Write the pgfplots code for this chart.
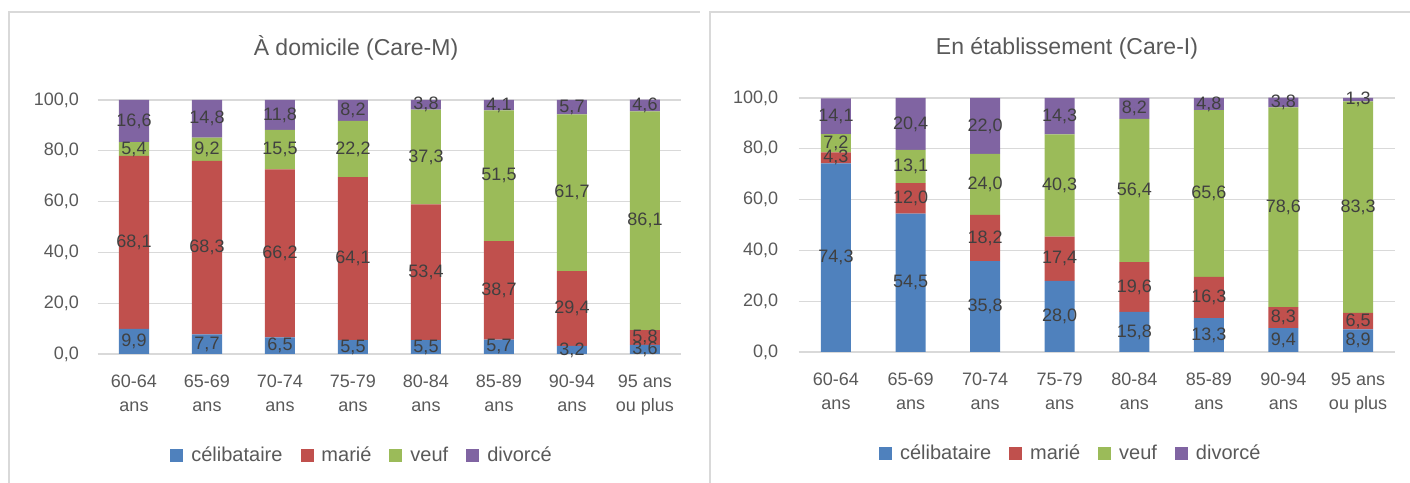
\documentclass[border=0pt]{standalone}
\usepackage{pgfplots}
\pgfplotsset{compat=1.18}
\usepackage{pgfplotstable}
\usepackage{fontspec}
\setmainfont{Liberation Sans}
\definecolor{cblue}{HTML}{4F81BD}
\definecolor{cred}{HTML}{C0504D}
\definecolor{cgreen}{HTML}{9BBB59}
\definecolor{cpurple}{HTML}{8064A2}
\definecolor{gridc}{HTML}{D9D9D9}
\definecolor{tickc}{HTML}{595959}
\definecolor{labc}{HTML}{404040}

\pgfplotstableread{
x c m v d
0 9.9 68.1 5.4 16.6
1 7.7 68.3 9.2 14.8
2 6.5 66.2 15.5 11.8
3 5.5 64.1 22.2 8.2
4 5.5 53.4 37.3 3.8
5 5.7 38.7 51.5 4.1
6 3.2 29.4 61.7 5.7
7 3.6 5.8 86.1 4.6
}\domicile
\pgfplotstableread{
x c m v d
0 74.3 4.3 7.2 14.1
1 54.5 12.0 13.1 20.4
2 35.8 18.2 24.0 22.0
3 28.0 17.4 40.3 14.3
4 15.8 19.6 56.4 8.2
5 13.3 16.3 65.6 4.8
6 9.4 8.3 78.6 3.8
7 8.9 6.5 83.3 1.3
}\etab

\pgfplotsset{
  base/.style={
    scale only axis, height=254bp,
    xmin=-0.5, xmax=7.5, ymin=0, ymax=100, enlargelimits=false,
  },
  bars/.style={
    base,
    ybar stacked, bar width=30bp,
    ymajorgrids, grid style={color=gridc, line width=1.3bp},
    axis line style={draw=none},
    major tick length=0pt,
    ytick={0,20,...,100},
    xtick={0,...,7},
    xticklabels={{60-64\\ans},{65-69\\ans},{70-74\\ans},{75-79\\ans},{80-84\\ans},{85-89\\ans},{90-94\\ans},{95 ans\\ou plus}},
    tick label style={font=\fontsize{18bp}{24.5bp}\selectfont, text=tickc},
    xticklabel style={align=center, yshift=-17bp},
    /pgf/number format/.cd, fixed, fixed zerofill, precision=1, use comma, assume math mode=true,
    /pgfplots/.cd,
    legend columns=4,
    legend image code/.code={\fill[##1] (0bp,-6.5bp) rectangle (13bp,6.5bp);},
    legend style={draw=none, fill=none, font=\fontsize{20bp}{24bp}\selectfont, text=tickc,
      /tikz/every odd column/.append style={column sep=6bp},
      /tikz/every even column/.append style={column sep=16bp}},
  },
  labs/.style={
    base, hide axis, clip=false,
    /pgf/number format/.cd, fixed, fixed zerofill, precision=1, use comma, assume math mode=true,
    /pgfplots/.cd,
    every node near coord/.append style={anchor=center, font=\fontsize{18bp}{22bp}\selectfont, text=labc},
  },
  lab/.style={only marks, mark=*, mark size=0pt, mark options={draw=none, fill=none}, nodes near coords, point meta=explicit},
}

\begin{document}
\begin{tikzpicture}
\useasboundingbox (0bp,0bp) rectangle (1410bp,483bp);
\draw[gridc, line width=2bp] (8.5bp,0bp) -- (8.5bp,471bp) -- (700bp,471bp);
\draw[gridc, line width=2bp] (709.5bp,0bp) -- (709.5bp,471bp) -- (1410bp,471bp);
\node[font=\fontsize{23bp}{27bp}\selectfont, text=tickc] at (356bp,435bp) {À domicile (Care-M)};
\node[font=\fontsize{23bp}{27bp}\selectfont, text=tickc] at (1067bp,435bp) {En établissement (Care-I)};

% Left panel
\begin{axis}[bars, at={(97.5bp,129bp)}, anchor=south west, width=584bp,
  yticklabel style={xshift=-15bp},
  legend style={at={(0.453,-0.398)}, anchor=center}]
\addplot[fill=cblue, draw=none] table[x=x, y=c]{\domicile};
\addplot[fill=cred, draw=none] table[x=x, y=m]{\domicile};
\addplot[fill=cgreen, draw=none] table[x=x, y=v]{\domicile};
\addplot[fill=cpurple, draw=none] table[x=x, y=d]{\domicile};
\legend{célibataire, marié, veuf, divorcé}
\end{axis}
\begin{axis}[labs, at={(97.5bp,129bp)}, anchor=south west, width=584bp]
\addplot[lab] table[x=x, y expr=\thisrow{c}/2, meta=c]{\domicile};
\addplot[lab] table[x=x, y expr=\thisrow{c}+\thisrow{m}/2, meta=m]{\domicile};
\addplot[lab] table[x=x, y expr=\thisrow{c}+\thisrow{m}+\thisrow{v}/2, meta=v]{\domicile};
\addplot[lab] table[x=x, y expr=\thisrow{c}+\thisrow{m}+\thisrow{v}+\thisrow{d}/2, meta=d]{\domicile};
\end{axis}

% Right panel
\begin{axis}[bars, at={(798.7bp,131bp)}, anchor=south west, width=596.6bp,
  yticklabel style={xshift=-17bp},
  legend style={at={(0.456,-0.398)}, anchor=center}]
\addplot[fill=cblue, draw=none] table[x=x, y=c]{\etab};
\addplot[fill=cred, draw=none] table[x=x, y=m]{\etab};
\addplot[fill=cgreen, draw=none] table[x=x, y=v]{\etab};
\addplot[fill=cpurple, draw=none] table[x=x, y=d]{\etab};
\legend{célibataire, marié, veuf, divorcé}
\end{axis}
\begin{axis}[labs, at={(798.7bp,131bp)}, anchor=south west, width=596.6bp]
\addplot[lab] table[x=x, y expr=\thisrow{c}/2, meta=c]{\etab};
\addplot[lab] table[x=x, y expr=\thisrow{c}+\thisrow{m}/2, meta=m]{\etab};
\addplot[lab] table[x=x, y expr=\thisrow{c}+\thisrow{m}+\thisrow{v}/2, meta=v]{\etab};
\addplot[lab] table[x=x, y expr=\thisrow{c}+\thisrow{m}+\thisrow{v}+\thisrow{d}/2, meta=d]{\etab};
\end{axis}
\end{tikzpicture}
\end{document}
